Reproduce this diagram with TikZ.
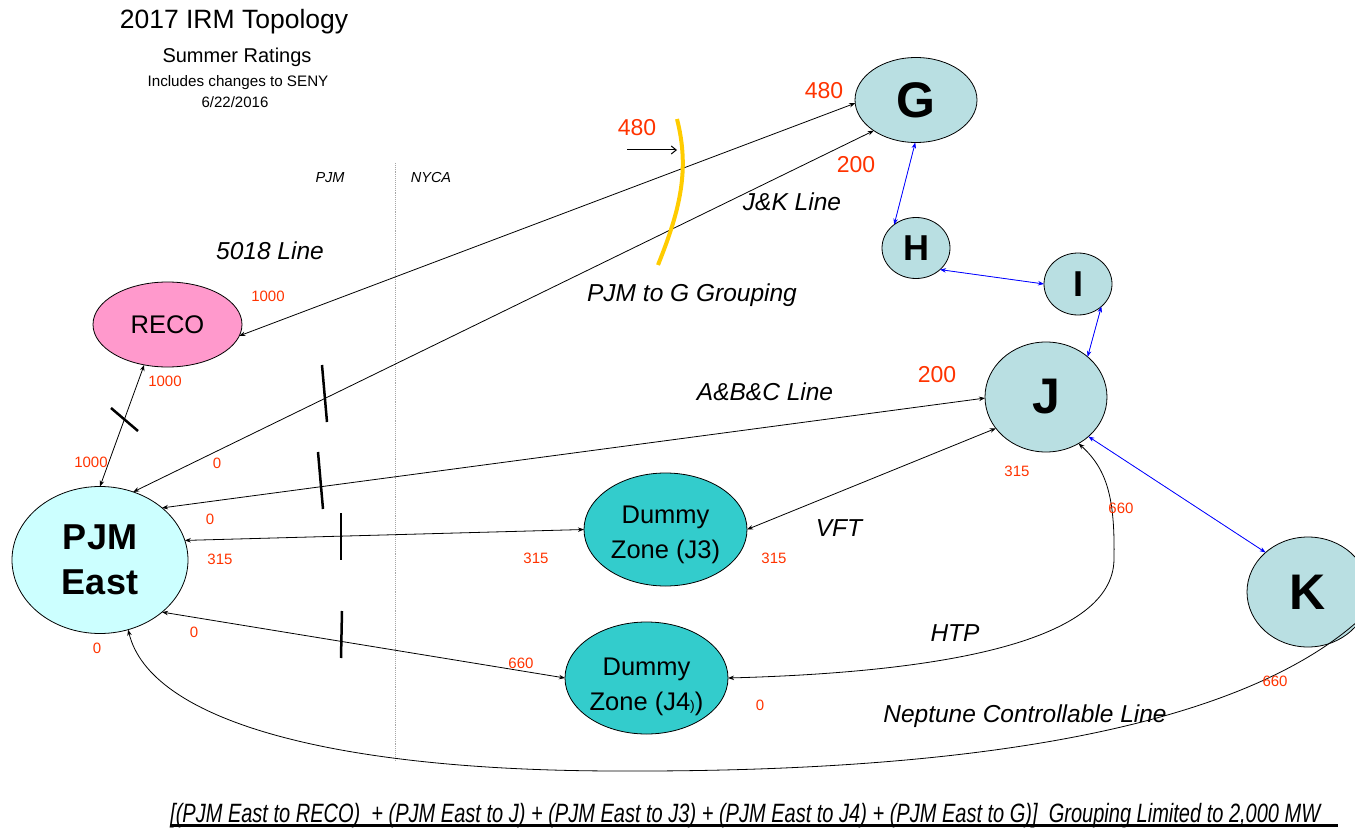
\documentclass[tikz,border=0pt]{standalone}
\usepackage{fontspec}
\usepackage{graphicx}
\setmainfont{Liberation Sans}
\usetikzlibrary{arrows.meta,shapes.geometric}
\definecolor{zonefill}{RGB}{185,223,226}
\definecolor{recofill}{RGB}{255,153,204}
\definecolor{pjmfill}{RGB}{204,255,255}
\definecolor{dummyfill}{RGB}{51,204,204}
\definecolor{numred}{RGB}{255,51,0}
\definecolor{gold}{RGB}{255,204,0}
\definecolor{arrowblue}{RGB}{0,0,255}
\newcommand{\twolines}[3]{\raisebox{#1}[\height][\depth]{\begin{tabular}{@{}c@{}}#2\\#3\end{tabular}}}
\begin{document}
\begin{tikzpicture}[x=1pt,y=-1pt,
  zonenode/.style={ellipse,draw=black,line width=0.8pt,inner sep=0pt,outer sep=0pt,align=center},
  bigletter/.style={font=\fontsize{50}{60}\selectfont\bfseries},
  midletter/.style={font=\fontsize{36}{45}\selectfont\bfseries},
  plainzone/.style={font=\fontsize{25.5}{35}\selectfont},
  conn/.style={line width=0.8pt,{Stealth[length=6pt,width=4.5pt]}-{Stealth[length=6pt,width=4.5pt]}},
  blueconn/.style={conn,draw=arrowblue,fill=arrowblue},
  num/.style={text=numred,font=\fontsize{15}{18}\selectfont,inner sep=0pt},
  bignum/.style={text=numred,font=\fontsize{23}{27}\selectfont,inner sep=0pt},
  linelabel/.style={font=\fontsize{24.5}{29}\selectfont\itshape,inner sep=0pt},
  sidelabel/.style={font=\fontsize{14.5}{17}\selectfont\itshape,inner sep=0pt},
  tickmark/.style={line width=2.5pt},
]
\useasboundingbox (0,0) rectangle (1355,832);
\clip (0,0) rectangle (1355,832);

% title
\node[inner sep=0pt,font=\fontsize{26.5}{30}\selectfont] (title) at (234,22) {2017 IRM Topology};
\node[inner sep=0pt,font=\fontsize{20}{24}\selectfont] (sub1) at (237,57) {Summer Ratings};
\node[inner sep=0pt,font=\fontsize{15.2}{18}\selectfont] (sub2) at (238,83) {Includes changes to SENY};
\node[inner sep=0pt,font=\fontsize{15}{18}\selectfont] (sub3) at (235,102) {6/22/2016};

% divider
\draw[gray!70,densely dotted,line width=0.9pt] (395,163) -- (395,760);
\node[sidelabel] (pjmside) at (330,178) {PJM};
\node[sidelabel] (nycaside) at (431,178) {NYCA};

% nodes
\node[zonenode,fill=zonefill,bigletter,minimum width=122pt,minimum height=85pt] (g) at (916,100) {G};
\node[zonenode,fill=zonefill,midletter,minimum width=68pt,minimum height=61pt] (h) at (916,248) {H};
\node[zonenode,fill=zonefill,midletter,minimum width=68pt,minimum height=62pt] (i) at (1078,284) {I};
\node[zonenode,fill=zonefill,bigletter,minimum width=122pt,minimum height=110pt] (j) at (1046,397) {J};
\node[zonenode,fill=zonefill,bigletter,minimum width=122pt,minimum height=110pt] (k) at (1308,592) {K};
\node[zonenode,fill=recofill,plainzone,minimum width=149pt,minimum height=85pt] (reco) at (167.5,324.5) {RECO};
\node[zonenode,fill=pjmfill,midletter,minimum width=176pt,minimum height=147pt] (pjm) at (100,560) {PJM\\East};
\node[zonenode,fill=dummyfill,plainzone,minimum width=163pt,minimum height=113pt] (j3) at (665.5,529.5) {\twolines{-4pt}{Dummy}{Zone (J3)}};
\node[zonenode,fill=dummyfill,plainzone,minimum width=163pt,minimum height=112pt] (j4) at (646.5,678) {\twolines{-8pt}{Dummy}{Zone (J4{\fontsize{14}{14}\selectfont)})}};

% connectors
\draw[conn] (reco.240) -- (pjm.90);
\draw[conn] (reco.-9) -- (g.183);
\draw[conn] (pjm.64) -- (g.216);
\draw[conn] (pjm.40) -- (j.181);
\draw[conn] (pjm.13) -- (j3.180);
\draw[conn] (j3.0) -- (j.212);
\draw[conn] (pjm.-40) -- (j4.180);
\draw[conn] (j4.0) .. controls (950,672) and (1112,640) .. (1114,560) .. controls (1115,500) and (1108,470) .. (j.-55);
\draw[conn] (pjm.-68) .. controls (150,720) and (330,771) .. (620,771) .. controls (900,772) and (1220,745) .. (k.-25);

\draw[blueconn] (g.-91) -- (h.133);
\draw[blueconn] (h.-42) -- (i.180);
\draw[blueconn] (i.-44) -- (j.44);
\draw[blueconn] (j.-43) -- (k.137);

% tick marks
\draw[tickmark] (111,408) -- (138,431);
\draw[tickmark] (322,365) -- (327,422);
\draw[tickmark] (318,452) -- (323,509);
\draw[tickmark] (341,513) -- (341,560);
\draw[tickmark] (342,611) -- (341,658);

% grouping arc and arrow
\draw[gold,line width=4pt] (677,119) .. controls (690,170) and (680,210) .. (658,265);
\coordinate (grpstart) at (627,150);
\coordinate (grpend) at (677,150);
\draw[line width=1pt,-{Straight Barb[length=5pt,width=8pt]}] (grpstart) -- (grpend);

% line labels
\node[linelabel] (l5018) at (270,251) {5018 Line};
\node[linelabel] (ljk) at (792,202) {J\&K Line};
\node[linelabel] (lgrp) at (692,295) {PJM to G Grouping};
\node[linelabel] (labc) at (765,392) {A\&B\&C Line};
\node[linelabel] (lvft) at (839,528) {VFT};
\node[linelabel] (lhtp) at (955,633) {HTP};
\node[linelabel] (lnep) at (1025,716) {Neptune Controllable Line};

% big numbers
\node[bignum] (n480g) at (824,91) {480};
\node[bignum] (n200g) at (856,165) {200};
\node[bignum] (n480a) at (637,128) {480};
\node[bignum] (n200j) at (937,375) {200};

% small numbers
\node[num] (r1) at (268,296) {1000};
\node[num] (r2) at (165,381) {1000};
\node[num] (r3) at (91,462) {1000};
\node[num] (z1) at (217,463) {0};
\node[num] (z2) at (210,519) {0};
\node[num] (p315) at (220,559) {315};
\node[num] (z3) at (194,632) {0};
\node[num] (z4) at (97,648) {0};
\node[num] (j3l) at (536,558) {315};
\node[num] (j3r) at (774,558) {315};
\node[num] (j4l) at (521,663) {660};
\node[num] (j4r) at (760,705) {0};
\node[num] (jb) at (1017,471) {315};
\node[num] (jr) at (1121,508) {660};
\node[num] (kb) at (1275,681) {660};

% bottom constraint
\node[inner sep=0pt,anchor=base west,font=\fontsize{26.5}{30}\selectfont\itshape] (limit) at (170,822) {\resizebox{1150pt}{\height}{[(PJM East to RECO)\ \ + (PJM East to J) + (PJM East to J3) + (PJM East to J4) + (PJM East to G)]\ \ Grouping Limited to 2,000 MW}};
\draw[line width=3pt] (170,825) -- (1338,825);
\end{tikzpicture}
\end{document}
